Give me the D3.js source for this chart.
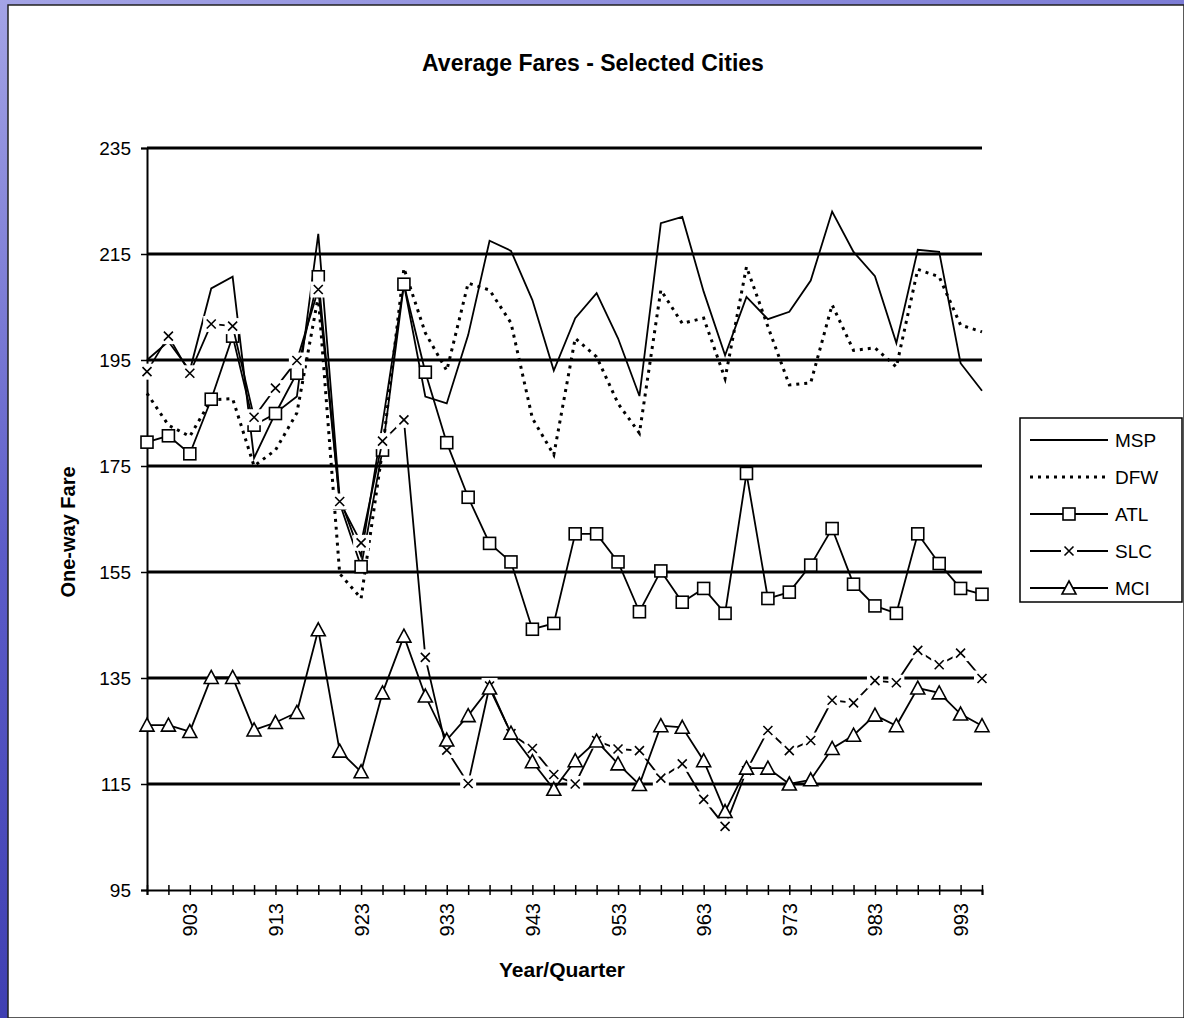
<!DOCTYPE html>
<html>
<head>
<meta charset="utf-8">
<script src="https://cdn.jsdelivr.net/npm/d3@7"></script>
<style>
  body { margin: 0; overflow: hidden; }
  text { font-family: Arial, "Liberation Sans", sans-serif; fill: #000; }
</style>
</head>
<body>
<script>
// quarters 901 .. 994 (year + quarter)
const quarters = [
  '901', '902', '903', '904', '911', '912', '913', '914', '921', '922',
  '923', '924', '931', '932', '933', '934', '941', '942', '943', '944',
  '951', '952', '953', '954', '961', '962', '963', '964', '971', '972',
  '973', '974', '981', '982', '983', '984', '991', '992', '993', '994'
]

const msp = [
  195, 198.5, 193, 208.5, 210.7, 176.5, 185, 188.1, 218.8, 169,
  158, 183, 209.3, 188.1, 186.8, 199.7, 217.5, 215.6, 206.3, 193,
  202.9, 207.6, 199.1, 188.2, 220.8, 222, 207.9, 195.9, 206.9, 202.7,
  204.1, 210, 223, 215.4, 210.8, 198.2, 215.8, 215.4, 194.4, 189.2
]
const dfw = [
  188.7, 182.7, 180.6, 187.5, 187.7, 175, 178, 185, 207, 154.7,
  150, 178, 212.3, 200.1, 193, 209.5, 208.2, 202, 184, 177.1,
  199.1, 195.6, 186.8, 181.2, 208.2, 201.9, 202.9, 191.5, 212.6, 201.3,
  190.3, 190.7, 205.4, 196.8, 197.3, 193.7, 212.1, 210.7, 201.6, 200.3
]
const atl = [
  179.5, 180.7, 177.3, 187.6, 199.5, 182.7, 184.9, 192.5, 210.7, 168,
  156, 178, 209.3, 192.7, 179.4, 169.1, 160.4, 156.9, 144.2, 145.3,
  162.2, 162.2, 156.9, 147.5, 155.2, 149.3, 151.9, 147.2, 173.6, 150,
  151.2, 156.3, 163.2, 152.7, 148.6, 147.2, 162.2, 156.6, 151.9, 150.8
]
const slc = [
  192.8, 199.5, 192.5, 201.8, 201.4, 184.2, 189.7, 194.9, 208.3, 168.3,
  160.5, 179.7, 183.7, 138.9, 121.4, 115.1, 133.5, 124.5, 121.7, 116.8,
  115, 123.2, 121.6, 121.3, 116.1, 118.8, 112.1, 107, 117.5, 125.1,
  121.3, 123.2, 130.8, 130.3, 134.5, 134.1, 140.2, 137.5, 139.7, 134.9
]
const mci = [
  126.1, 126.1, 124.9, 135.1, 135.1, 125.2, 126.6, 128.5, 144.1, 121.2,
  117.3, 132.2, 142.9, 131.6, 123.3, 127.9, 133.1, 124.6, 119.2, 114,
  119.4, 123.1, 118.8, 114.9, 126, 125.7, 119.4, 109.8, 118, 118,
  115, 115.8, 121.7, 124.2, 128, 126, 133.1, 132.2, 128.2, 126
]

const yTicks = [95, 115, 135, 155, 175, 195, 215, 235]

const series = [
  { name: 'MSP', values: msp, dash: null, marker: null },
  { name: 'DFW', values: dfw, dash: '3,5', marker: null },
  { name: 'ATL', values: atl, dash: null, marker: 'square' },
  { name: 'SLC', values: slc, dash: null, marker: 'cross' },
  { name: 'MCI', values: mci, dash: null, marker: 'triangle' }
]

const width = 1184,
  height = 1018
const plot = { left: 147, right: 982, top: 148, bottom: 890 }
const font = 'Arial, "Liberation Sans", sans-serif'

const svg = d3.select('body').append('svg')
  .attr('width', width)
  .attr('height', height)

// blue slide background + white chart panel
const grad = svg.append('defs').append('linearGradient')
  .attr('id', 'bg')
  .attr('x1', 0).attr('y1', 0).attr('x2', 0.3).attr('y2', 1)
grad.append('stop').attr('offset', 0).attr('stop-color', '#a4a4e6')
grad.append('stop').attr('offset', 0.5).attr('stop-color', '#5c5cc8')
grad.append('stop').attr('offset', 1).attr('stop-color', '#3a3aae')
svg.append('rect').attr('width', width).attr('height', height).attr('fill', 'url(#bg)')
svg.append('rect')
  .attr('x', 8).attr('y', 5)
  .attr('width', width - 8).attr('height', height - 5)
  .attr('fill', '#fff')
  .attr('stroke', '#222').attr('stroke-width', 1.5)

const x = d3.scalePoint().domain(quarters).range([plot.left, plot.right])
const y = d3.scaleLinear().domain([95, 235]).range([plot.bottom, plot.top])

// gridlines
svg.append('g')
  .selectAll('line')
  .data(yTicks.slice(1))
  .join('line')
  .attr('x1', plot.left).attr('x2', plot.right)
  .attr('y1', (d) => y(d)).attr('y2', (d) => y(d))
  .attr('stroke', '#000')
  .attr('stroke-width', 3.2)

// y axis
const yAxis = svg.append('g')
  .attr('transform', `translate(${plot.left},0)`)
  .call(d3.axisLeft(y).tickValues(yTicks).tickSize(6).tickPadding(10))
yAxis.select('.domain').attr('stroke', '#000').attr('stroke-width', 2)
yAxis.selectAll('.tick line').attr('stroke', '#000').attr('stroke-width', 1.5)
yAxis.selectAll('.tick text')
  .attr('font-size', 19)
  .attr('font-family', font)

// x axis
const xAxis = svg.append('g')
  .attr('transform', `translate(0,${plot.bottom})`)
  .call(
    d3.axisBottom(x)
      .tickSize(5)
      .tickFormat((d) => (d.endsWith('3') ? d : ''))
  )
xAxis.select('.domain').attr('stroke', '#000').attr('stroke-width', 2)
xAxis.selectAll('.tick line')
  .attr('y1', -5).attr('y2', 5)
  .attr('stroke', '#000').attr('stroke-width', 1.5)
xAxis.selectAll('.tick text')
  .attr('font-size', 20)
  .attr('font-family', font)
  .attr('transform', 'rotate(-90)')
  .attr('text-anchor', 'end')
  .attr('x', -13)
  .attr('y', 0)
  .attr('dy', '0.35em')

// markers
function drawMarker(g, type) {
  if (type === 'square') {
    g.append('rect')
      .attr('x', -6).attr('y', -6).attr('width', 12).attr('height', 12)
      .attr('fill', '#fff').attr('stroke', '#000').attr('stroke-width', 1.6)
  } else if (type === 'cross') {
    g.append('rect')
      .attr('x', -8).attr('y', -8).attr('width', 16).attr('height', 16)
      .attr('fill', '#fff')
    g.append('path')
      .attr('d', 'M-4.5,-4.5L4.5,4.5M-4.5,4.5L4.5,-4.5')
      .attr('stroke', '#000').attr('stroke-width', 1.6)
  } else if (type === 'triangle') {
    g.append('path')
      .attr('d', 'M0,-7L7,6L-7,6Z')
      .attr('fill', '#fff').attr('stroke', '#000').attr('stroke-width', 1.6)
  }
}

const line = d3.line()
  .x((d, i) => x(quarters[i]))
  .y((d) => y(d))

series.forEach((s) => {
  const g = svg.append('g')
  g.append('path')
    .datum(s.values)
    .attr('d', line)
    .attr('fill', 'none')
    .attr('stroke', '#000')
    .attr('stroke-width', s.dash ? 3 : 1.8)
    .attr('stroke-dasharray', s.dash)
  if (s.marker) {
    g.selectAll('g.pt')
      .data(s.values)
      .join('g')
      .attr('class', 'pt')
      .attr('transform', (d, i) => `translate(${x(quarters[i])},${y(d)})`)
      .each(function () {
        drawMarker(d3.select(this), s.marker)
      })
  }
})

// titles
svg.append('text')
  .attr('x', 593).attr('y', 71)
  .attr('text-anchor', 'middle')
  .attr('font-size', 23).attr('font-weight', 'bold')
  .text('Average Fares - Selected Cities')

svg.append('text')
  .attr('transform', `translate(75,${(plot.top + plot.bottom) / 2 + 13}) rotate(-90)`)
  .attr('text-anchor', 'middle')
  .attr('font-size', 20).attr('font-weight', 'bold')
  .text('One-way Fare')

svg.append('text')
  .attr('x', 562).attr('y', 977)
  .attr('text-anchor', 'middle')
  .attr('font-size', 21).attr('font-weight', 'bold')
  .text('Year/Quarter')

// legend
const legend = svg.append('g').attr('transform', 'translate(1020,418)')
legend.append('rect')
  .attr('width', 162).attr('height', 184)
  .attr('fill', '#fff').attr('stroke', '#000').attr('stroke-width', 1.5)
series.forEach((s, i) => {
  const row = legend.append('g').attr('transform', `translate(0,${22 + i * 37})`)
  row.append('line')
    .attr('x1', 10).attr('x2', 88)
    .attr('stroke', '#000')
    .attr('stroke-width', s.dash ? 3 : 1.8)
    .attr('stroke-dasharray', s.dash)
  if (s.marker) {
    const m = row.append('g').attr('transform', 'translate(49,0)')
    drawMarker(m, s.marker)
  }
  row.append('text')
    .attr('x', 95).attr('dy', '0.35em')
    .attr('font-size', 19)
    .text(s.name)
})
</script>
</body>
</html>
